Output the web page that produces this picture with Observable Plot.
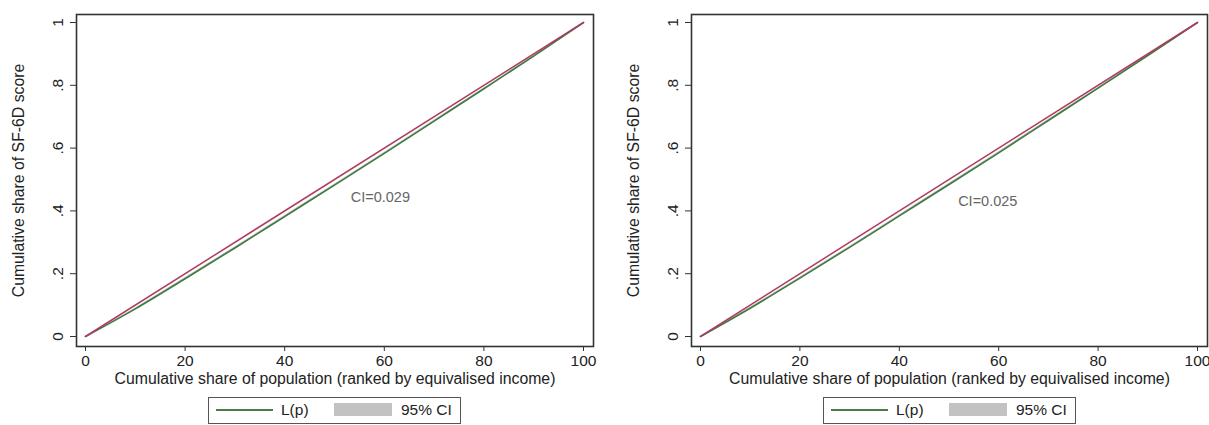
<!DOCTYPE html>
<html><head><meta charset="utf-8">
<script src="https://cdn.jsdelivr.net/npm/d3@7"></script>
<script src="https://cdn.jsdelivr.net/npm/@observablehq/plot@0.6"></script>
<style>
body{margin:0;background:#fff;font-family:"Liberation Sans",Arial,Helvetica,sans-serif;}
#wrap{position:relative;width:1209px;height:425px;overflow:hidden;display:flex}
.panel{position:relative;height:425px}
.legend{position:absolute;top:397px;width:253px;height:27px;box-sizing:border-box;border:1px solid #555;background:#fff;font-size:15.5px;color:#222}
.legend .ln{position:absolute;left:7px;top:11px;width:57px;height:2px;background:#4a7d4a}
.legend .t1{position:absolute;left:72px;top:3px}
.legend .sw{position:absolute;left:125px;top:5px;width:58px;height:13px;background:#c2c2c2}
.legend .t2{position:absolute;left:192px;top:3px}
</style></head>
<body><div id="wrap"></div>
<script>
// Data
const pop = [0, 10, 20, 30, 40, 50, 60, 70, 80, 90, 100];
const lpLeft   = [0, 0.088, 0.184, 0.282, 0.382, 0.482, 0.583, 0.686, 0.789, 0.893, 1];
const lpLeftLo = [0, 0.086, 0.181, 0.279, 0.379, 0.479, 0.580, 0.683, 0.787, 0.891, 1];
const lpLeftHi = [0, 0.090, 0.187, 0.285, 0.385, 0.485, 0.586, 0.689, 0.791, 0.895, 1];
const lpRight   = [0, 0.090, 0.186, 0.284, 0.384, 0.484, 0.585, 0.688, 0.791, 0.895, 1];
const lpRightLo = [0, 0.088, 0.183, 0.281, 0.381, 0.481, 0.582, 0.685, 0.789, 0.893, 1];
const lpRightHi = [0, 0.092, 0.189, 0.287, 0.387, 0.487, 0.588, 0.691, 0.793, 0.897, 1];
const eqX = [0, 100];
const eqY = [0, 1];
const ciLabels = ["CI=0.029", "CI=0.025"];
const ciPos = [[59.2, 0.443], [57.8, 0.430]];
const xTicks = [0, 20, 40, 60, 80, 100];
const yTicks = [0, 0.2, 0.4, 0.6, 0.8, 1];
const yTickLabels = ["0", ".2", ".4", ".6", ".8", "1"];
const xLabel = "Cumulative share of population (ranked by equivalised income)";
const yLabel = "Cumulative share of SF-6D score";

const panels = [
  {lp: lpLeft, lo: lpLeftLo, hi: lpLeftHi, ci: 0, width: 604, ml: 76, mr: 11},
  {lp: lpRight, lo: lpRightLo, hi: lpRightHi, ci: 1, width: 605, ml: 87, mr: 2}
];

const wrap = document.getElementById("wrap");
for (const p of panels) {
  const rows = pop.map((x, i) => ({x, y: p.lp[i], lo: p.lo[i], hi: p.hi[i]}));
  const eq = eqX.map((x, i) => ({x, y: eqY[i]}));
  const fr = "#333";
  const chart = Plot.plot({
    width: p.width, height: 392,
    marginLeft: p.ml, marginRight: p.mr, marginTop: 14, marginBottom: 46,
    x: {domain: [0, 100], insetLeft: 9, insetRight: 10},
    y: {domain: [0, 1], insetTop: 8, insetBottom: 10},
    style: {fontFamily: '"Liberation Sans", Arial, sans-serif', fontSize: "15px", color: "#222", background: "#fff"},
    marks: [
      Plot.areaY(rows, {x: "x", y1: "lo", y2: "hi", fill: "#c2c2c2"}),
      Plot.line(rows, {x: "x", y: "y", stroke: "#3f7a3f", strokeWidth: 1.6, curve: "monotone-x"}),
      Plot.line(eq, {x: "x", y: "y", stroke: "#b03a62", strokeWidth: 1.5}),
      Plot.text([ciLabels[p.ci]], {x: [ciPos[p.ci][0]], y: [ciPos[p.ci][1]], text: d => d, fill: "#666", fontSize: 14.5}),
      Plot.frame({stroke: fr, strokeWidth: 1.6}),
      Plot.axisX({ticks: xTicks, tickSize: 5, tickPadding: 3, tickFormat: d => String(d), label: null, stroke: fr, fontSize: 15.5}),
      Plot.axisY({ticks: yTicks, tickSize: 6, tickFormat: () => "", label: null, stroke: fr}),
      Plot.text(yTicks, {y: d => d, text: (d, i) => yTickLabels[i], frameAnchor: "left", dx: -18, rotate: -90, textAnchor: "middle", lineAnchor: "middle", fill: "#222", fontSize: 15.5}),
      Plot.text([xLabel], {text: d => d, frameAnchor: "bottom", dy: 32, lineAnchor: "middle", fill: "#222", fontSize: 15.8}),
      Plot.text([yLabel], {text: d => d, frameAnchor: "left", dx: -(p.ml - (p.ci ? 29 : 18)), rotate: -90, textAnchor: "middle", lineAnchor: "middle", fill: "#222", fontSize: 15.8})
    ]
  });
  const panel = document.createElement("div");
  panel.className = "panel";
  panel.style.width = p.width + "px";
  panel.appendChild(chart);
  const lg = document.createElement("div");
  lg.className = "legend";
  lg.style.left = (p.ci ? 219 : 208) + "px";
  lg.innerHTML = '<div class="ln"></div><span class="t1">L(p)</span><div class="sw"></div><span class="t2">95% CI</span>';
  panel.appendChild(lg);
  wrap.appendChild(panel);
}
</script></body></html>
